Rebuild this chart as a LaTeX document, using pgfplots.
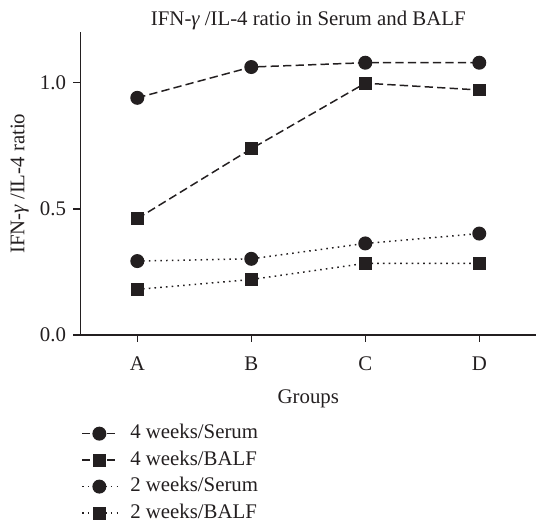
\documentclass[border=0pt]{standalone}
\usepackage{pgfplots}
\pgfplotsset{compat=1.18}
\usepackage{fontspec}
\setmainfont{Liberation Serif}
\definecolor{ink}{HTML}{231F20}
\begin{document}
\fontsize{10.5}{12}\selectfont
\begin{tikzpicture}
\begin{axis}[
  name=ax,
  scale only axis,
  width=230pt, height=152.75pt,
  xmin=-0.5, xmax=3.5, ymin=0, ymax=1.2,
  axis x line=bottom, axis y line=left,
  axis line style={-, ink, line width=0.75pt},
  xtick={0,1,2,3}, xticklabels={A,B,C,D},
  ytick={0,0.5,1.0},
  yticklabel style={/pgf/number format/fixed, /pgf/number format/fixed zerofill, /pgf/number format/precision=1},
  /pgf/number format/assume math mode=true,
  tick align=outside, major tick length=3.5pt,
  tick style={ink, line width=0.75pt},
  every tick label/.append style={font=\fontsize{10.5}{12}\selectfont, text=ink},
  xticklabel style={anchor=base, inner sep=0pt, yshift=-14.35pt},
  every axis title shift=0pt,
  title={IFN-{\itshape γ} /IL-4 ratio in Serum and BALF},
  title style={at={(rel axis cs:0.5,1)}, anchor=base, yshift=3.4pt, inner sep=0pt, font=\fontsize{10.5}{12}\selectfont, text=ink},
  xlabel={Groups},
  xlabel style={at={(rel axis cs:0.5,0)}, anchor=base, yshift=-34.7pt, inner sep=0pt, font=\fontsize{10.5}{12}\selectfont, text=ink},
  ylabel={IFN-{\itshape γ} /IL-4 ratio},
  ylabel style={at={(rel axis cs:0,0.5)}, anchor=center, yshift=30.5pt, inner sep=0pt, font=\fontsize{10.5}{12}\selectfont, text=ink},
  legend style={at={(rel axis cs:0,0)}, anchor=north west, xshift=0.5pt, yshift=-45.25pt,
    draw=none, fill=none, inner sep=0pt, outer sep=0pt, row sep=4.35pt, column sep=6.5pt,
    font=\fontsize{10.5}{12}\selectfont, text=ink,
    nodes={inner sep=0pt, text height=7pt, text depth=2pt}},
  legend cell align=left,
  legend image code/.code={\draw[#1, mark repeat=2, mark phase=2] plot coordinates {(0pt,0pt)(8.75pt,0pt)(17.5pt,0pt)};},
  clip=false,
]
\addplot[ink, line width=0.75pt, dash pattern=on 4.2pt off 2.1pt, mark=*, mark size=3.15pt, mark options={solid, fill=ink, draw=ink}]
  coordinates {(0,0.940) (1,1.062) (2,1.079) (3,1.079)};
\addlegendentry{4 weeks/Serum}
\addplot[ink, line width=0.75pt, dash pattern=on 4.2pt off 2.1pt, mark=square*, mark size=2.9pt, mark options={solid, fill=ink, draw=ink}]
  coordinates {(0,0.461) (1,0.738) (2,0.998) (3,0.971)};
\addlegendentry{4 weeks/BALF}
\addplot[ink, line width=0.75pt, dash pattern=on 0.8pt off 2.1pt, mark=*, mark size=3.15pt, mark options={solid, fill=ink, draw=ink}]
  coordinates {(0,0.293) (1,0.302) (2,0.363) (3,0.402)};
\addlegendentry{2 weeks/Serum}
\addplot[ink, line width=0.75pt, dash pattern=on 0.8pt off 2.1pt, mark=square*, mark size=2.9pt, mark options={solid, fill=ink, draw=ink}]
  coordinates {(0,0.181) (1,0.220) (2,0.284) (3,0.284)};
\addlegendentry{2 weeks/BALF}
\end{axis}
\path[use as bounding box] ([xshift=-40.5pt, yshift=-91.5pt]ax.south west) rectangle ([xshift=228pt, yshift=16.25pt]ax.north west);
\end{tikzpicture}
\end{document}
